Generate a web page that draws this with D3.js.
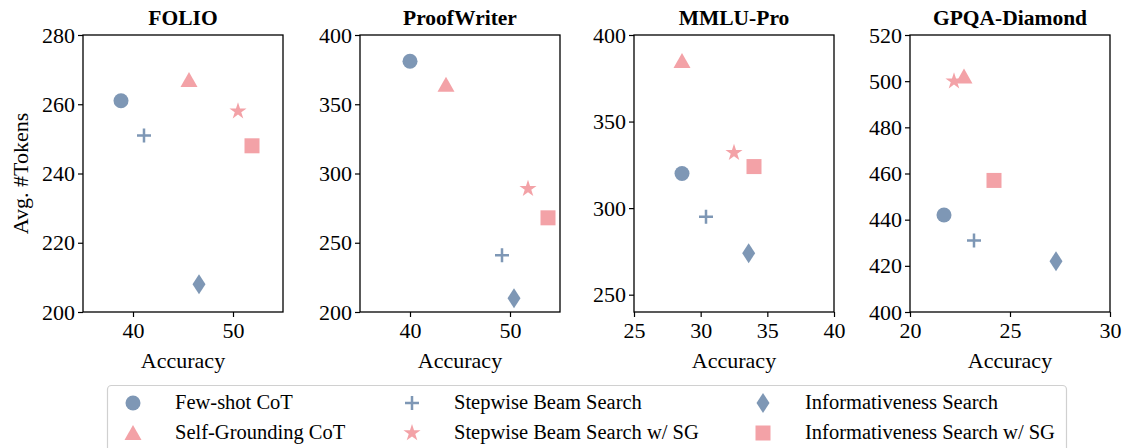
<!DOCTYPE html>
<html>
<head>
<meta charset="utf-8">
<script src="https://cdn.jsdelivr.net/npm/d3@7"></script>
<style>
  html, body { margin: 0; padding: 0; background: #fff; }
  svg text { font-family: "Liberation Serif", "DejaVu Serif", serif; fill: #000; }
</style>
</head>
<body>
<svg id="chart" width="1124" height="448"></svg>
<script>
const datasets = ["FOLIO", "ProofWriter", "MMLU-Pro", "GPQA-Diamond"];
const methods = ["Few-shot CoT", "Self-Grounding CoT", "Stepwise Beam Search",
  "Stepwise Beam Search w/ SG", "Informativeness Search", "Informativeness Search w/ SG"];
const markers = ["circle", "triangle", "plus", "star", "diamond", "square"];
const colors = ["#7e97b5", "#f3a2a7", "#7e97b5", "#f3a2a7", "#7e97b5", "#f3a2a7"];

// accuracy / avg tokens per dataset, in the order of `methods`
const accFOLIO = [38.8, 45.6, 41.1, 50.5, 46.6, 51.9];
const tokFOLIO = [261, 267, 251, 258, 208, 248];
const accProofWriter = [40.0, 43.6, 49.2, 51.8, 50.4, 53.8];
const tokProofWriter = [381, 364, 241, 289, 210, 268];
const accMMLUPro = [28.6, 28.6, 30.4, 32.5, 33.6, 34.0];
const tokMMLUPro = [320, 385, 295, 332, 274, 324];
const accGPQA = [21.7, 22.7, 23.2, 22.2, 27.3, 24.2];
const tokGPQA = [442, 502, 431, 500, 422, 457];

const xDomains = [[35, 55], [35, 55], [25, 40], [20, 30]];
const yDomains = [[200, 280], [200, 400], [240, 400], [400, 520]];
const xTicks = [[40, 50], [40, 50], [25, 30, 35, 40], [20, 25, 30]];
const yTicks = [[200, 220, 240, 260, 280], [200, 250, 300, 350, 400],
  [250, 300, 350, 400], [400, 420, 440, 460, 480, 500, 520]];

const accs = [accFOLIO, accProofWriter, accMMLUPro, accGPQA];
const toks = [tokFOLIO, tokProofWriter, tokMMLUPro, tokGPQA];

const panelLeft = [83, 360, 634, 910];
const panelW = 200, panelTop = 35, panelH = 277;

const svg = d3.select("#chart");

function starPath(ro) {
  const ri = ro * 0.382;
  const pts = [];
  for (let i = 0; i < 10; i++) {
    const r = i % 2 ? ri : ro;
    const a = -Math.PI / 2 + i * Math.PI / 5;
    pts.push([r * Math.cos(a), r * Math.sin(a)]);
  }
  return "M" + pts.map(p => p.join(",")).join("L") + "Z";
}

function drawMarker(g, type, color) {
  if (type === "circle") {
    g.append("circle").attr("r", 7.5).attr("fill", color);
  } else if (type === "square") {
    g.append("rect").attr("x", -7.5).attr("y", -7.5).attr("width", 15).attr("height", 15).attr("fill", color);
  } else if (type === "triangle") {
    g.append("path").attr("d", "M0,-8L-8.5,7L8.5,7Z").attr("fill", color);
  } else if (type === "diamond") {
    g.append("path").attr("d", "M0,-10L6.5,0L0,10L-6.5,0Z").attr("fill", color);
  } else if (type === "star") {
    g.append("path").attr("d", starPath(9)).attr("fill", color);
  } else if (type === "plus") {
    g.append("path").attr("d", "M-7,0H7M0,-7V7").attr("stroke", color)
      .attr("stroke-width", 2.5).attr("fill", "none");
  }
}

datasets.forEach((name, p) => {
  const x = d3.scaleLinear().domain(xDomains[p]).range([panelLeft[p], panelLeft[p] + panelW]);
  const y = d3.scaleLinear().domain(yDomains[p]).range([panelTop + panelH, panelTop]);

  const xAxis = svg.append("g")
    .attr("transform", `translate(0,${panelTop + panelH})`)
    .call(d3.axisBottom(x).tickValues(xTicks[p]).tickSize(5).tickPadding(5));
  const yAxis = svg.append("g")
    .attr("transform", `translate(${panelLeft[p]},0)`)
    .call(d3.axisLeft(y).tickValues(yTicks[p]).tickSize(5).tickPadding(3));
  [xAxis, yAxis].forEach(a => {
    a.select(".domain").remove();
    a.selectAll("line").attr("stroke", "#000").attr("stroke-width", 1.2);
    a.selectAll("text").style("font-size", "22px").attr("fill", "#000");
  });

  svg.append("rect")
    .attr("x", panelLeft[p]).attr("y", panelTop)
    .attr("width", panelW).attr("height", panelH)
    .attr("fill", "none").attr("stroke", "#000").attr("stroke-width", 1.3);

  svg.append("text")
    .attr("x", panelLeft[p] + panelW / 2).attr("y", 25)
    .attr("text-anchor", "middle")
    .style("font-size", "21.5px").style("font-weight", "bold")
    .text(name);

  svg.append("text")
    .attr("x", panelLeft[p] + panelW / 2).attr("y", 368)
    .attr("text-anchor", "middle")
    .style("font-size", "22px")
    .text("Accuracy");

  methods.forEach((m, i) => {
    const g = svg.append("g")
      .attr("transform", `translate(${x(accs[p][i])},${y(toks[p][i])})`);
    drawMarker(g, markers[i], colors[i]);
  });
});

svg.append("text")
  .attr("transform", `translate(28,${panelTop + panelH / 2}) rotate(-90)`)
  .attr("text-anchor", "middle")
  .style("font-size", "22px")
  .text("Avg. #Tokens");

// legend
svg.append("rect")
  .attr("x", 107.5).attr("y", 385.5).attr("width", 959).attr("height", 80)
  .attr("rx", 4).attr("fill", "#fff").attr("stroke", "#d0d0d0").attr("stroke-width", 1.2);

const legX = [133, 412, 763];
const legY = [403, 433];
methods.forEach((m, i) => {
  const col = Math.floor(i / 2), row = i % 2;
  const g = svg.append("g").attr("transform", `translate(${legX[col]},${legY[row]})`);
  drawMarker(g, markers[i], colors[i]);
  svg.append("text")
    .attr("x", legX[col] + 42).attr("y", legY[row] + 6)
    .style("font-size", "20.5px")
    .text(m);
});
</script>
</body>
</html>
